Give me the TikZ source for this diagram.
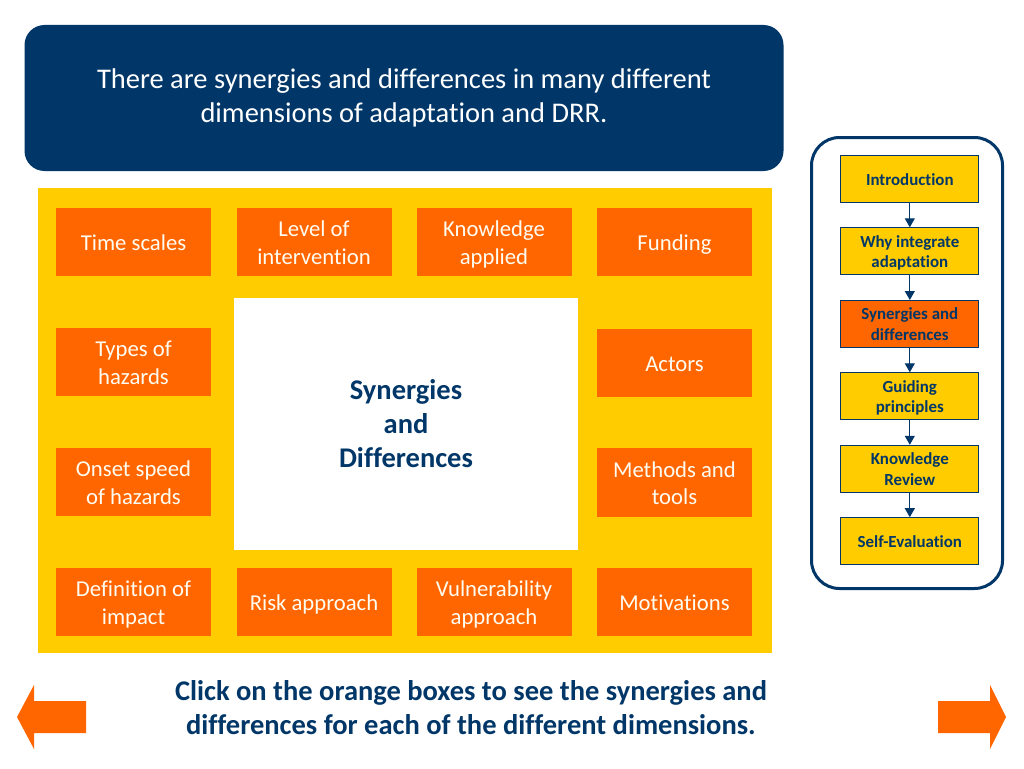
\documentclass[tikz,border=0pt]{standalone}
\usepackage{fontspec}
\setmainfont[RawFeature={-liga;-clig;-dlig}]{Carlito}
\usetikzlibrary{arrows.meta}
\definecolor{navy}{HTML}{003768}
\definecolor{gold}{HTML}{FFCC00}
\definecolor{orng}{HTML}{FF6600}
\newcommand{\lstr}{\rule[-.2\baselineskip]{0pt}{\baselineskip}}
\newcommand{\hstr}{\rule[-.28\baselineskip]{0pt}{\baselineskip}}
\newcommand{\oneline}[1]{\lstr #1}
\newcommand{\twolines}[2]{\lstr #1\\\lstr #2}
\tikzset{x=1pt,y=-1pt,
 dim/.style={fill=orng,draw=none,minimum width=155pt,minimum height=68.5pt,inner sep=0pt,align=center,text=white!95!gold,font=\fontsize{22.7}{27.5}\selectfont,anchor=center},
 nav/.style={fill=gold,draw=navy,line width=1pt,minimum width=138pt,minimum height=47pt,inner sep=0pt,align=center,text=navy,font=\bfseries\fontsize{16.9}{20.3}\selectfont},
 flow/.style={draw=navy,line width=1.1pt,-{Triangle[length=9pt,width=10pt]}},
 big/.style={align=center,text=navy,font=\bfseries\fontsize{28.5}{34}\selectfont}}
\begin{document}
\begin{tikzpicture}
\useasboundingbox (0,0) rectangle (1024,768);
\fill[white] (0,0) rectangle (1024,768);
\node[fill=navy,rounded corners=20pt,minimum width=759pt,minimum height=146pt,inner sep=0pt,align=center,text=white,font=\fontsize{28.5}{34}\selectfont] (head) at (404,98) {\hstr There are synergies and differences in many different\\\hstr dimensions of adaptation and DRR.};
\node[fill=gold,minimum width=734pt,minimum height=465pt,inner sep=0pt] (panel) at (405,420.5) {};
\node[fill=white,minimum width=344pt,minimum height=252pt,inner sep=0pt,big] (centre) at (406,424) {Synergies\\and\\Differences};
\node[dim] (d1) at (133.5,242) {\oneline{Time scales}};
\node[dim] (d2) at (314,242) {\twolines{Level of}{intervention}};
\node[dim] (d3) at (494,242) {\twolines{Knowledge}{applied}};
\node[dim] (d4) at (674.5,242) {\oneline{Funding}};
\node[dim] (d5) at (133.5,362) {\twolines{Types of}{hazards}};
\node[dim] (d6) at (674.5,363) {\oneline{Actors}};
\node[dim] (d7) at (133.5,482) {\twolines{Onset speed}{of hazards}};
\node[dim] (d8) at (674.5,482.5) {\twolines{Methods and}{tools}};
\node[dim] (d9) at (133.5,602) {\twolines{Definition of}{impact}};
\node[dim] (d10) at (314,602) {\oneline{Risk approach}};
\node[dim] (d11) at (494,602) {\twolines{Vulnerability}{approach}};
\node[dim] (d12) at (674.5,602) {\oneline{Motivations}};
\node[draw=navy,line width=3pt,rounded corners=28pt,minimum width=191pt,minimum height=451pt,inner sep=0pt] (frame) at (907,363) {};
\node[nav] (n1) at (909.8,179) {\oneline{Introduction}};
\node[nav] (n2) at (909.8,251.3) {\twolines{Why integrate}{adaptation}};
\node[nav,fill=orng] (n3) at (909.8,324) {\twolines{Synergies and}{differences}};
\node[nav] (n4) at (909.8,396.3) {\twolines{Guiding}{principles}};
\node[nav] (n5) at (909.8,468.8) {\twolines{Knowledge}{Review}};
\node[nav] (n6) at (909.8,541.2) {\oneline{Self-Evaluation}};
\draw[flow] (n1) -- (n2);
\draw[flow] (n2) -- (n3);
\draw[flow] (n3) -- (n4);
\draw[flow] (n4) -- (n5);
\draw[flow] (n5) -- (n6);
\node[big] (foot) at (471,708) {Click on the orange boxes to see the synergies and\\differences for each of the different dimensions.};
\fill[orng] (17,717) -- (34,685) -- (34,701) -- (86,701) -- (86,733) -- (34,733) -- (34,749) -- cycle;
\fill[orng] (1006,717) -- (990,685) -- (990,701) -- (938,701) -- (938,733) -- (990,733) -- (990,749) -- cycle;
\end{tikzpicture}
\end{document}
